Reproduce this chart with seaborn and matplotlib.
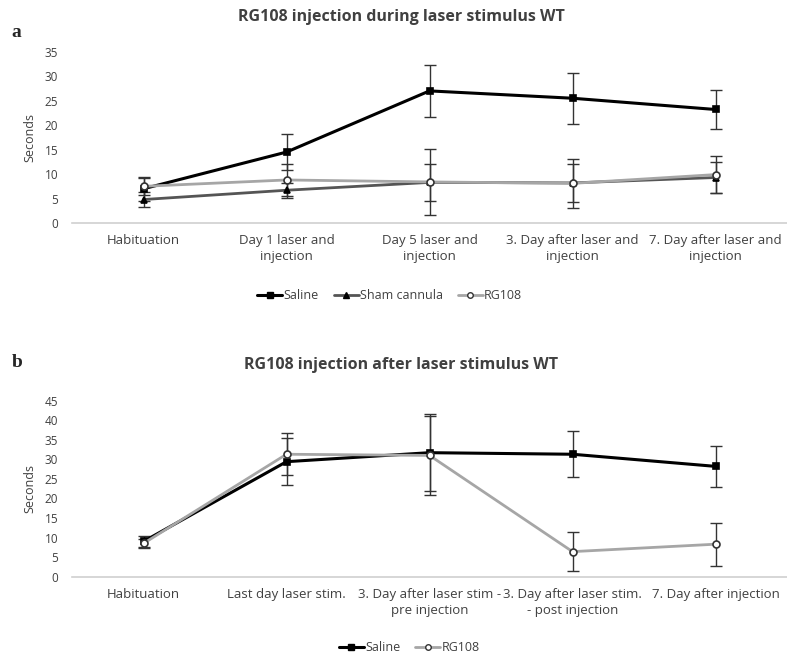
import numpy as np
import pandas as pd
import matplotlib
matplotlib.use("Agg")
import matplotlib.pyplot as plt
import seaborn as sns
from matplotlib.lines import Line2D

# Panel a: injection during laser stimulus
labels_a = ['Habituation', 'Day 1 laser and\ninjection', 'Day 5 laser and\ninjection',
            '3. Day after laser and\ninjection', '7. Day after laser and\ninjection']
saline_a = [7.0, 14.5, 27.0, 25.5, 23.2]
saline_a_err = [2.5, 3.7, 5.3, 5.2, 4.0]
sham_a = [4.8, 6.7, 8.3, 8.2, 9.3]
sham_a_err = [1.5, 1.5, 3.8, 3.9, 3.1]
rg108_a = [7.5, 8.8, 8.4, 8.1, 9.9]
rg108_a_err = [1.8, 3.3, 6.8, 5.0, 3.8]

# Panel b: injection after laser stimulus
labels_b = ['Habituation', 'Last day laser stim.', '3. Day after laser stim -\npre injection',
            '3. Day after laser stim.\n- post injection', '7. Day after injection']
saline_b = [9.0, 29.4, 31.7, 31.3, 28.2]
saline_b_err = [1.3, 6.0, 9.8, 5.9, 5.3]
rg108_b = [8.5, 31.3, 31.0, 6.4, 8.3]
rg108_b_err = [1.2, 5.4, 10.0, 5.0, 5.5]

sns.set_theme(style="white")
plt.rcParams['font.family'] = ['Open Sans', 'DejaVu Sans']

fig = plt.figure(figsize=(7.87, 6.55), dpi=100)
ax_a = fig.add_axes([0.0915, 0.6595, 0.9085, 0.2615])
ax_b = fig.add_axes([0.0915, 0.1196, 0.9085, 0.2687])

styles = {
    'Saline': dict(color='black', marker='s', mfc='black', mec='black', lw=2.2, ms=5),
    'Sham cannula': dict(color='#555555', marker='^', mfc='black', mec='black', lw=2.0, ms=5),
    'RG108': dict(color='#a6a6a6', marker='o', mfc='white', mec='#333333', lw=2.0, ms=5),
}


def draw_series(ax, name, vals, errs):
    st = styles[name]
    x = np.arange(len(vals))
    df = pd.DataFrame({'x': x, 'y': vals})
    sns.lineplot(data=df, x='x', y='y', ax=ax, color=st['color'], lw=st['lw'],
                 marker=st['marker'], markerfacecolor=st['mfc'], markeredgecolor=st['mec'],
                 markeredgewidth=1.2, markersize=st['ms'], zorder=3)
    ax.errorbar(x, vals, yerr=errs, fmt='none', ecolor='#333333', elinewidth=1.0,
                capsize=4, capthick=1.0, zorder=2)


def style_axis(ax, labels, ymax):
    ax.set_xlim(-0.5, 4.5)
    ax.set_ylim(0, ymax)
    ax.set_yticks(np.arange(0, ymax + 1, 5))
    ax.set_xticks(np.arange(5))
    ax.set_xticklabels(labels, fontsize=9.5, color='#404040', linespacing=1.3)
    ax.tick_params(axis='y', labelsize=8.5, colors='#404040', length=0, pad=10)
    ax.tick_params(axis='x', length=0, pad=8)
    ax.set_xlabel('')
    ax.set_ylabel('Seconds', fontsize=9, color='#404040', labelpad=6)
    for s in ['top', 'right', 'left']:
        ax.spines[s].set_visible(False)
    ax.spines['bottom'].set_color('#d0d0d0')
    ax.spines['bottom'].set_linewidth(1.2)


draw_series(ax_a, 'Saline', saline_a, saline_a_err)
draw_series(ax_a, 'Sham cannula', sham_a, sham_a_err)
draw_series(ax_a, 'RG108', rg108_a, rg108_a_err)
style_axis(ax_a, labels_a, 35)

draw_series(ax_b, 'Saline', saline_b, saline_b_err)
draw_series(ax_b, 'RG108', rg108_b, rg108_b_err)
style_axis(ax_b, labels_b, 45)


def legend_handles(names):
    hs = []
    for n in names:
        st = styles[n]
        hs.append(Line2D([], [], color=st['color'], lw=st['lw'], marker=st['marker'],
                         mfc=st['mfc'], mec=st['mec'], ms=st['ms'] - 1, label=n))
    return hs


fig.legend(handles=legend_handles(['Saline', 'Sham cannula', 'RG108']), loc='center',
           bbox_to_anchor=(0.495, 0.549), ncol=3, frameon=False, fontsize=9,
           handlelength=2.0, handletextpad=0.1, columnspacing=1.2, labelcolor='#404040')
fig.legend(handles=legend_handles(['Saline', 'RG108']), loc='center',
           bbox_to_anchor=(0.52, 0.011), ncol=2, frameon=False, fontsize=9,
           handlelength=2.0, handletextpad=0.1, columnspacing=1.2, labelcolor='#404040')

fig.text(0.51, 0.974, 'RG108 injection during laser stimulus WT', ha='center', va='center',
         fontsize=11.5, fontweight='bold', color='#404040')
fig.text(0.51, 0.443, 'RG108 injection after laser stimulus WT', ha='center', va='center',
         fontsize=11.5, fontweight='bold', color='#404040')
fig.text(0.015, 0.951, 'a', fontsize=14, fontweight='bold', family='Liberation Serif', va='center')
fig.text(0.015, 0.446, 'b', fontsize=14, fontweight='bold', family='Liberation Serif', va='center')

fig.savefig('out.png', dpi=100)
